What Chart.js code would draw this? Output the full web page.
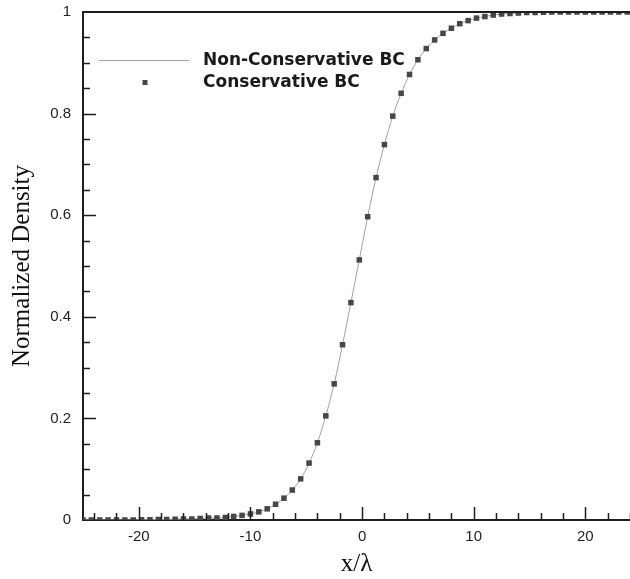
<!DOCTYPE html>
<html lang="en">
<head>
  <meta charset="UTF-8" />
  <title>Normalized Density</title>
  <script src="https://cdn.jsdelivr.net/npm/chart.js"></script>
  <style>
    html, body { margin: 0; padding: 0; background: #fff; }
    #wrap { width: 630px; height: 579px; position: relative; }
  </style>
</head>
<body>
  <div id="wrap"><canvas id="densityChart" width="630" height="579"></canvas></div>

  <script>
    // x/lambda positions of the grid points
    const xGrid = [
      -25, -24.25, -23.5, -22.75, -22, -21.25, -20.5, -19.75, -19, -18.25,
      -17.5, -16.75, -16, -15.25, -14.5, -13.75, -13, -12.25, -11.5, -10.75,
      -10, -9.25, -8.5, -7.75, -7, -6.25, -5.5, -4.75, -4, -3.25,
      -2.5, -1.75, -1, -0.25, 0.5, 1.25, 2, 2.75, 3.5, 4.25,
      5, 5.75, 6.5, 7.25, 8, 8.75, 9.5, 10.25, 11, 11.75,
      12.5, 13.25, 14, 14.75, 15.5, 16.25, 17, 17.75, 18.5, 19.25,
      20, 20.75, 21.5, 22.25, 23, 23.75
    ];
    const nonConservative = [
      0, 0, 0, 0, 0, 0, 0, 0.0005, 0.0005, 0.001,
      0.001, 0.0015, 0.002, 0.002, 0.003, 0.004, 0.004, 0.005, 0.007, 0.009,
      0.012, 0.016, 0.022, 0.031, 0.043, 0.059, 0.081, 0.112, 0.152, 0.205,
      0.268, 0.345, 0.428, 0.512, 0.597, 0.674, 0.739, 0.795, 0.840, 0.877,
      0.906, 0.928, 0.945, 0.958, 0.968, 0.977, 0.983, 0.988, 0.991, 0.994,
      0.996, 0.997, 0.998, 0.999, 0.999, 0.9995, 1, 1, 1, 1,
      1, 1, 1, 1, 1, 1
    ];
    const conservative = [
      0, 0, 0, 0, 0, 0, 0, 0.0005, 0.0005, 0.001,
      0.001, 0.0015, 0.002, 0.002, 0.003, 0.004, 0.004, 0.005, 0.007, 0.009,
      0.012, 0.016, 0.022, 0.031, 0.043, 0.059, 0.081, 0.112, 0.152, 0.205,
      0.268, 0.345, 0.428, 0.512, 0.597, 0.674, 0.739, 0.795, 0.840, 0.877,
      0.906, 0.928, 0.945, 0.958, 0.968, 0.977, 0.983, 0.988, 0.991, 0.994,
      0.996, 0.997, 0.998, 0.999, 0.999, 0.9995, 1, 1, 1, 1,
      1, 1, 1, 1, 1, 1
    ];
    const xMajorTicks = [-20, -10, 0, 10, 20];
    const yMajorTicks = [0, 0.2, 0.4, 0.6, 0.8, 1];
    const seriesNames = ['Non-Conservative BC', 'Conservative BC'];

    const axisColor = '#1e1e1e';
    const lineColor = '#a0a0a0';
    const markerColor = '#474747';

    // inward tick marks, top frame line and the in-plot legend
    const framePlugin = {
      id: 'frame',
      afterDatasetsDraw(chart) {
        const { ctx, chartArea: a, scales: { x, y } } = chart;
        ctx.save();
        ctx.strokeStyle = axisColor;
        ctx.lineWidth = 2;
        ctx.beginPath();
        ctx.moveTo(a.left - 1, a.top);
        ctx.lineTo(a.right, a.top);
        ctx.stroke();

        ctx.lineWidth = 1.5;
        ctx.beginPath();
        for (let v = -24; v <= 24; v += 2) {
          const px = Math.round(x.getPixelForValue(v)) + 0.5;
          const len = v % 10 === 0 ? 13 : 7;
          ctx.moveTo(px, a.bottom);
          ctx.lineTo(px, a.bottom - len);
        }
        for (let i = 1; i < 20; i++) {
          const v = i * 0.05;
          const py = Math.round(y.getPixelForValue(v)) + 0.5;
          const len = i % 4 === 0 ? 13 : 7;
          ctx.moveTo(a.left, py);
          ctx.lineTo(a.left + len, py);
        }
        ctx.stroke();

        // legend
        ctx.strokeStyle = lineColor;
        ctx.lineWidth = 1;
        ctx.beginPath();
        ctx.moveTo(99, 60.5);
        ctx.lineTo(189, 60.5);
        ctx.stroke();
        ctx.fillStyle = markerColor;
        ctx.fillRect(142.5, 80, 5, 5);
        ctx.fillStyle = '#1a1a1a';
        ctx.font = 'bold 17px "DejaVu Sans", sans-serif';
        ctx.textBaseline = 'middle';
        ctx.fillText(seriesNames[0], 203, 61);
        ctx.fillText(seriesNames[1], 203, 83);
        ctx.restore();
      }
    };

    new Chart(document.getElementById('densityChart'), {
      type: 'scatter',
      data: {
        datasets: [
          {
            label: seriesNames[1],
            data: xGrid.map((v, i) => ({ x: v, y: conservative[i] })),
            showLine: false,
            pointStyle: 'rect',
            pointRadius: 3.9,
            pointBackgroundColor: markerColor,
            pointBorderWidth: 0,
            order: 0
          },
          {
            label: seriesNames[0],
            data: xGrid.map((v, i) => ({ x: v, y: nonConservative[i] })),
            showLine: true,
            borderColor: lineColor,
            borderWidth: 1,
            pointRadius: 0,
            cubicInterpolationMode: 'monotone',
            order: 1
          }
        ]
      },
      options: {
        responsive: false,
        animation: false,
        layout: { autoPadding: false, padding: { left: 0, right: 0, top: 12, bottom: 0 } },
        plugins: {
          legend: { display: false },
          tooltip: { enabled: false }
        },
        scales: {
          x: {
            type: 'linear',
            min: -25,
            max: 24,
            afterBuildTicks: s => { s.ticks = xMajorTicks.map(v => ({ value: v })); },
            afterFit: s => { s.height = 59; s.paddingLeft = 0; s.paddingRight = 0; },
            grid: { display: false, drawTicks: false },
            border: { display: true, color: axisColor, width: 2 },
            ticks: {
              color: '#222',
              padding: 8,
              font: { family: '"Liberation Sans", Arial, sans-serif', size: 15 },
              callback: v => String(v)
            },
            title: {
              display: true,
              text: 'x/λ',
              color: '#111',
              padding: { top: 2, bottom: 0 },
              font: { family: '"Liberation Serif", "Times New Roman", serif', size: 25 }
            }
          },
          y: {
            min: 0,
            max: 1,
            afterBuildTicks: s => { s.ticks = yMajorTicks.map(v => ({ value: v })); },
            afterFit: s => { s.width = 83; s.paddingTop = 0; s.paddingBottom = 0; },
            grid: { display: false, drawTicks: false },
            border: { display: true, color: axisColor, width: 2 },
            ticks: {
              color: '#222',
              padding: 12,
              font: { family: '"Liberation Sans", Arial, sans-serif', size: 15 },
              callback: v => String(Math.round(v * 10) / 10)
            },
            title: {
              display: true,
              text: 'Normalized Density',
              color: '#111',
              padding: { top: 7, bottom: 0 },
              font: { family: '"Liberation Serif", "Times New Roman", serif', size: 25 }
            }
          }
        }
      },
      plugins: [framePlugin]
    });
  </script>
</body>
</html>
